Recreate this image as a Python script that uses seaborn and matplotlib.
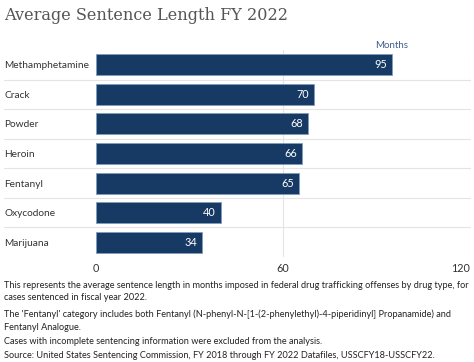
import seaborn as sns
import matplotlib.pyplot as plt
import pandas as pd

drugs = ["Methamphetamine", "Crack", "Powder", "Heroin", "Fentanyl", "Oxycodone", "Marijuana"]
months = [95, 70, 68, 66, 65, 40, 34]
x_ticks = [0, 60, 120]

title = "Average Sentence Length FY 2022"
notes = [
    "This represents the average sentence length in months imposed in federal drug trafficking offenses by drug type, for",
    "cases sentenced in fiscal year 2022.",
    "The 'Fentanyl' category includes both Fentanyl (N-phenyl-N-[1-(2-phenylethyl)-4-piperidinyl] Propanamide) and",
    "Fentanyl Analogue.",
    "Cases with incomplete sentencing information were excluded from the analysis.",
]
source = "Source: United States Sentencing Commission, FY 2018 through FY 2022 Datafiles, USSCFY18-USSCFY22."

bar_color = "#173a64"
text_color = "#333333"
grid_color = "#e4e4e4"

sns.set_style("white")
plt.rcParams["font.family"] = ["Lato", "DejaVu Sans"]

df = pd.DataFrame({"drug": drugs, "months": months})

fig = plt.figure(figsize=(4.74, 3.62), dpi=100)
ax = fig.add_axes([96 / 474, 1 - 257 / 362, 374 / 474, 207 / 362])

sns.barplot(data=df, x="months", y="drug", orient="h", color=bar_color,
            width=0.71, edgecolor="#7f9cc0", linewidth=0.6, saturation=1, ax=ax)

ax.set_xlim(0, 120)
ax.set_ylim(len(drugs) - 0.5, -0.5)
ax.set_xticks(x_ticks)
ax.set_xticklabels([str(t) for t in x_ticks], fontsize=7.8, color=text_color)
ax.get_xticklabels()[-1].set_ha("right")
ax.set_xlabel("")
ax.set_ylabel("")
for s in ax.spines.values():
    s.set_visible(False)
ax.tick_params(axis="x", length=0, pad=4)
ax.tick_params(axis="y", length=0, pad=66, labelsize=7.3, labelcolor=text_color)
for t in ax.get_yticklabels():
    t.set_ha("left")

ax.set_axisbelow(True)
for x in x_ticks[1:]:
    ax.axvline(x, color=grid_color, lw=0.8, zorder=0)
for i in range(len(drugs) - 1):
    ax.axhline(i + 0.5, xmin=-0.245, xmax=1.0, color=grid_color, lw=0.8,
               clip_on=False, zorder=0)

for i, v in enumerate(months):
    ax.annotate(str(v), (v, i), xytext=(-3.5, 0), textcoords="offset points",
                ha="right", va="center", color="white", fontsize=7.8)

fig.text(408 / 474, 1 - 45 / 362, "Months", ha="right", va="center",
         fontsize=7, color="#3d5d89")
fig.text(4 / 474, 1 - 16 / 362, title, ha="left", va="center",
         fontsize=11.6, color="#555555", family="DejaVu Serif")

ys = [285, 298, 314, 328, 341]
for y, line in zip(ys, notes):
    fig.text(4 / 474, 1 - y / 362, line, ha="left", va="center", fontsize=6.6, color="#222222")
fig.text(4 / 474, 1 - 356 / 362, source, ha="left", va="center", fontsize=6.6, color="#222222")

fig.savefig("out.png", dpi=100)
